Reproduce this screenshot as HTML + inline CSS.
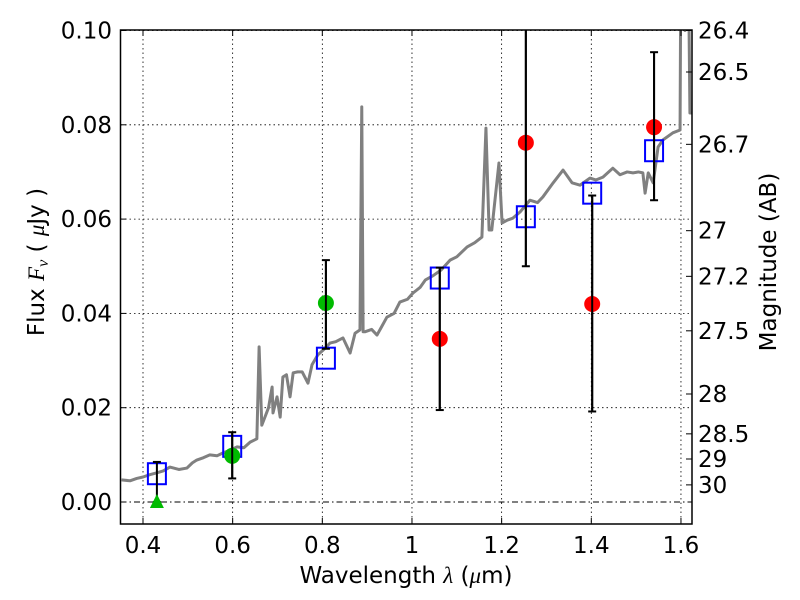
<!DOCTYPE html>
<html><head><meta charset="utf-8"><style>
body{margin:0;background:#fff}
svg{display:block;font-family:"DejaVu Sans","Liberation Sans",sans-serif}
</style></head><body>
<svg id="c" width="800" height="600"></svg>
<script>
const specLam=[0.352,0.371,0.386,0.400,0.415,0.431,0.445,0.460,0.480,0.498,0.510,0.520,0.535,0.549,0.565,0.578,0.595,0.610,0.625,0.639,0.654,0.659,0.665,0.672,0.680,0.688,0.690,0.699,0.706,0.712,0.720,0.728,0.735,0.745,0.755,0.768,0.777,0.790,0.805,0.817,0.830,0.846,0.862,0.873,0.884,0.888,0.891,0.895,0.910,0.922,0.944,0.960,0.973,0.990,1.002,1.018,1.030,1.047,1.065,1.085,1.100,1.123,1.140,1.156,1.165,1.172,1.178,1.194,1.201,1.213,1.225,1.241,1.263,1.280,1.292,1.315,1.337,1.357,1.375,1.397,1.410,1.426,1.448,1.464,1.480,1.493,1.505,1.515,1.520,1.527,1.538,1.549,1.560,1.582,1.598,1.600,1.603,1.609,1.612,1.616,1.620,1.625];
const specFlux=[0.0047,0.0045,0.0050,0.0053,0.0058,0.0062,0.0066,0.0074,0.0069,0.0072,0.0083,0.0089,0.0094,0.0100,0.0098,0.0104,0.0110,0.0117,0.0115,0.0127,0.0134,0.0329,0.0163,0.0180,0.0200,0.0244,0.0189,0.0223,0.0180,0.0265,0.0270,0.0223,0.0274,0.0276,0.0276,0.0252,0.0291,0.0312,0.0325,0.0337,0.0340,0.0348,0.0316,0.0358,0.0365,0.0838,0.0361,0.0361,0.0366,0.0354,0.0392,0.0400,0.0424,0.0430,0.0443,0.0455,0.0471,0.0480,0.0492,0.0513,0.0520,0.0541,0.0550,0.0562,0.0793,0.0577,0.0577,0.0719,0.0592,0.0598,0.0602,0.0615,0.0640,0.0635,0.0647,0.0677,0.0704,0.0677,0.0672,0.0687,0.0683,0.0689,0.0708,0.0694,0.0700,0.0698,0.0700,0.0698,0.0655,0.0698,0.0677,0.0753,0.0768,0.0783,0.0789,0.12,0.12,0.10,0.12,0.12,0.0825,0.0825];
const modelLam=[0.431,0.599,0.808,1.062,1.254,1.402,1.540];
const modelFlux=[0.0060,0.0118,0.0305,0.0475,0.0605,0.0655,0.0745];
const greenLam=[0.599,0.808];
const greenFlux=[0.0098,0.0422];
const greenErrLo=[0.0050,0.0325];
const greenErrHi=[0.0148,0.0513];
const triLam=[0.431];
const triFlux=[0.0];
const triErrHi=[0.0085];
const redLam=[1.062,1.254,1.402,1.540];
const redFlux=[0.0346,0.0762,0.0420,0.0795];
const redErrLo=[0.0195,0.0500,0.0192,0.0640];
const redErrHi=[0.0497,0.1030,0.0650,0.0954];
const xTicks=[0.4,0.6,0.8,1.0,1.2,1.4,1.6];
const xTickLabels=["0.4","0.6","0.8","1","1.2","1.4","1.6"];
const yTicks=[0,0.02,0.04,0.06,0.08,0.10];
const yTickLabels=["0.00","0.02","0.04","0.06","0.08","0.10"];
const magTicks=[26.4,26.5,26.7,27,27.2,27.5,28,28.5,29,30];
const magLabels=["26.4","26.5","26.7","27","27.2","27.5","28","28.5","29","30"];

const L=120.5,R=692,T=30,B=524;
const X=l=>143+(l-0.4)*448.3;
const Y=f=>502-f*4715;
const svg=document.getElementById('c');
const NS='http://www.w3.org/2000/svg';
function mk(tag,attrs,parent){const e=document.createElementNS(NS,tag);for(const k in attrs)e.setAttribute(k,attrs[k]);(parent||svg).appendChild(e);return e;}
const defs=mk('defs',{});const cp=mk('clipPath',{id:'clip'},defs);mk('rect',{x:L,y:T,width:R-L,height:B-T},cp);
const plot=mk('g',{'clip-path':'url(#clip)'});


xTicks.forEach(t=>{const g=mk('line',{x1:X(t),x2:X(t),y1:T,y2:B,stroke:'#000','stroke-width':0.8,'stroke-dasharray':'1.5,3'},plot);

});
yTicks.forEach(t=>{if(t===0)return;const g=mk('line',{x1:L,x2:R,y1:Y(t),y2:Y(t),stroke:'#000','stroke-width':0.8,'stroke-dasharray':'1.5,3'},plot);

});
const zl=mk('line',{x1:L,x2:R,y1:Y(0),y2:Y(0),stroke:'#000','stroke-width':0.9,'stroke-dasharray':'6,3,1.5,3'},plot);


const sp=mk('polyline',{points:specLam.map((l,i)=>X(l)+','+Y(specFlux[i])).join(' '),fill:'none',stroke:'#808080','stroke-width':3,'stroke-linejoin':'round'},plot);


function err(x,lo,hi,name){const g=mk('g',{},plot);


mk('line',{x1:x,x2:x,y1:Y(lo),y2:Y(hi),stroke:'#000','stroke-width':2},g);
mk('line',{x1:x-4,x2:x+4,y1:Y(lo),y2:Y(lo),stroke:'#000','stroke-width':2},g);
mk('line',{x1:x-4,x2:x+4,y1:Y(hi),y2:Y(hi),stroke:'#000','stroke-width':2},g);}
modelLam.forEach((l,i)=>{const r=mk('rect',{x:X(l)-9,y:Y(modelFlux[i])-10.5,width:18,height:21,fill:'none',stroke:'#0000ff','stroke-width':2},plot);

});
triLam.forEach((l,i)=>{err(X(l),triFlux[i],triErrHi[i],'upper-limit-errorbar');const x=X(l),y=Y(triFlux[i]);
const p=mk('polygon',{points:`${x},${y-8} ${x-7},${y+6} ${x+7},${y+6}`,fill:'#00bb00'},plot);

});
greenLam.forEach((l,i)=>{err(X(l),greenErrLo[i],greenErrHi[i],'green-errorbar');
const c=mk('circle',{cx:X(l),cy:Y(greenFlux[i]),r:8,fill:'#00bb00'},plot);


mk('line',{x1:X(l),x2:X(l),y1:Y(greenErrLo[i]),y2:Y(greenErrHi[i]),stroke:'#000','stroke-width':2},plot);});
redLam.forEach((l,i)=>{err(X(l),redErrLo[i],redErrHi[i],'red-errorbar');
const c=mk('circle',{cx:X(l),cy:Y(redFlux[i]),r:8,fill:'#ff0000'},plot);


mk('line',{x1:X(l),x2:X(l),y1:Y(redErrLo[i]),y2:Y(redErrHi[i]),stroke:'#000','stroke-width':2},plot);});
const fr=mk('rect',{x:L,y:T,width:R-L,height:B-T,fill:'none',stroke:'#000','stroke-width':1.5});


function txt(s,x,y,anchor,size,name){const t=mk('text',{x:x,y:y,'text-anchor':anchor,'font-size':size,fill:'#000'});t.textContent=s;

return t;}
xTicks.forEach((t,i)=>{mk('line',{x1:X(t),x2:X(t),y1:B,y2:B-6,stroke:'#000'});mk('line',{x1:X(t),x2:X(t),y1:T,y2:T+6,stroke:'#000'});
txt(xTickLabels[i],X(t),553,'middle',23,'x-tick-label');});
yTicks.forEach((t,i)=>{mk('line',{x1:L,x2:L+6,y1:Y(t),y2:Y(t),stroke:'#000'});
txt(yTickLabels[i],112,Y(t)+8,'end',23,'y-tick-label');});
magTicks.forEach((m,i)=>{const f=Math.pow(10,(23.9-m)/2.5);mk('line',{x1:R,x2:R-6,y1:Y(f),y2:Y(f),stroke:'#000'});
txt(magLabels[i],698,Y(f)+8,'start',23,'magnitude-tick-label');});
const xl=mk('text',{x:406,y:583,'text-anchor':'middle','font-size':23});xl.innerHTML='Wavelength  <tspan font-family="Liberation Serif" font-style="italic">λ</tspan> (<tspan font-family="Liberation Serif" font-style="italic">μ</tspan>m)';


const yl=mk('text',{x:0,y:0,'text-anchor':'middle','font-size':23,transform:'translate(44,262) rotate(-90)'});yl.innerHTML='Flux  <tspan font-family="Liberation Serif" font-style="italic">F</tspan><tspan font-family="Liberation Serif" font-style="italic" font-size="16" dy="4">ν</tspan><tspan dy="-4">  ( </tspan><tspan font-family="Liberation Serif" font-style="italic">μ</tspan>Jy )';


const ml=txt('Magnitude (AB)',0,0,'middle',23,'magnitude-axis-title');ml.setAttribute('transform','translate(776,262) rotate(-90)');
</script>
</body></html>
